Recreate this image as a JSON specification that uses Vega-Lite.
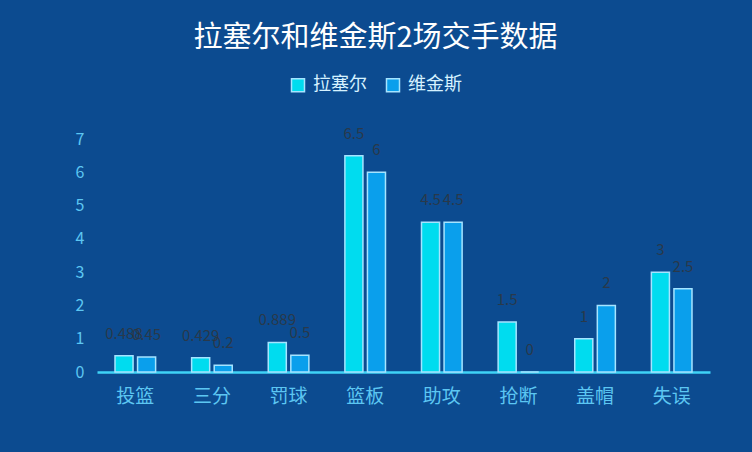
{
  "$schema": "https://vega.github.io/schema/vega-lite/v6.json",
  "width": 613,
  "height": 233,
  "autosize": {"type": "none"},
  "padding": {"left": 97, "top": 139, "right": 42, "bottom": 80},
  "background": "#0c4b90",
  "title": {
    "text": "拉塞尔和维金斯2场交手数据",
    "color": "#ffffff",
    "fontSize": 29,
    "fontWeight": "normal",
    "font": "Noto Sans CJK SC",
    "anchor": "middle",
    "dx": -28,
    "offset": 23
  },
  "data": {
    "values": [
      {"cat": "投篮", "player": "拉塞尔", "value": 0.488},
      {"cat": "投篮", "player": "维金斯", "value": 0.45},
      {"cat": "三分", "player": "拉塞尔", "value": 0.429},
      {"cat": "三分", "player": "维金斯", "value": 0.2},
      {"cat": "罚球", "player": "拉塞尔", "value": 0.889},
      {"cat": "罚球", "player": "维金斯", "value": 0.5},
      {"cat": "篮板", "player": "拉塞尔", "value": 6.5},
      {"cat": "篮板", "player": "维金斯", "value": 6},
      {"cat": "助攻", "player": "拉塞尔", "value": 4.5},
      {"cat": "助攻", "player": "维金斯", "value": 4.5},
      {"cat": "抢断", "player": "拉塞尔", "value": 1.5},
      {"cat": "抢断", "player": "维金斯", "value": 0},
      {"cat": "盖帽", "player": "拉塞尔", "value": 1},
      {"cat": "盖帽", "player": "维金斯", "value": 2},
      {"cat": "失误", "player": "拉塞尔", "value": 3},
      {"cat": "失误", "player": "维金斯", "value": 2.5}
    ]
  },
  "encoding": {
    "x": {
      "field": "cat",
      "type": "nominal",
      "sort": null,
      "title": null,
      "scale": {"paddingInner": 0.47, "paddingOuter": 0.235},
      "axis": {
        "labelAngle": 0,
        "labelColor": "#5cc6f2",
        "labelFontSize": 19,
        "labelFont": "Noto Sans CJK SC",
        "labelPadding": 15,
        "domainColor": "#3fd3f7",
        "domainWidth": 2.5,
        "ticks": false,
        "grid": false
      }
    },
    "xOffset": {
      "field": "player",
      "type": "nominal",
      "sort": ["拉塞尔", "维金斯"],
      "scale": {"paddingInner": 0.2, "paddingOuter": 0}
    },
    "y": {
      "field": "value",
      "type": "quantitative",
      "title": null,
      "scale": {"domain": [0, 7], "nice": false},
      "axis": {
        "values": [0, 1, 2, 3, 4, 5, 6, 7],
        "labelColor": "#5cc6f2",
        "labelFontSize": 16,
        "labelFont": "Noto Sans CJK SC",
        "labelPadding": 13,
        "domain": false,
        "ticks": false,
        "grid": false
      }
    }
  },
  "layer": [
    {
      "mark": {"type": "bar", "stroke": "#a6e4ff", "strokeWidth": 1.5},
      "encoding": {
        "color": {
          "field": "player",
          "type": "nominal",
          "sort": ["拉塞尔", "维金斯"],
          "scale": {"domain": ["拉塞尔", "维金斯"], "range": ["#00dcef", "#0a9fec"]},
          "legend": {
            "title": null,
            "orient": "none",
            "legendX": 192,
            "legendY": -63,
            "direction": "horizontal",
            "symbolType": "square",
            "symbolSize": 169,
            "symbolStrokeColor": "#a6e4ff",
            "symbolStrokeWidth": 1.5,
            "symbolOpacity": 1,
            "labelColor": "#d6f2ff",
            "labelFontSize": 18,
            "labelFont": "Noto Sans CJK SC",
            "labelOffset": 6,
            "columnPadding": 16
          }
        }
      }
    },
    {
      "mark": {
        "type": "text",
        "baseline": "middle",
        "align": "center",
        "dy": -22,
        "fontSize": 15,
        "font": "Noto Sans CJK SC",
        "fill": "#333333",
        "opacity": 0.75
      },
      "encoding": {
        "text": {"field": "value", "type": "quantitative"}
      }
    }
  ],
  "config": {
    "view": {"stroke": null}
  }
}
